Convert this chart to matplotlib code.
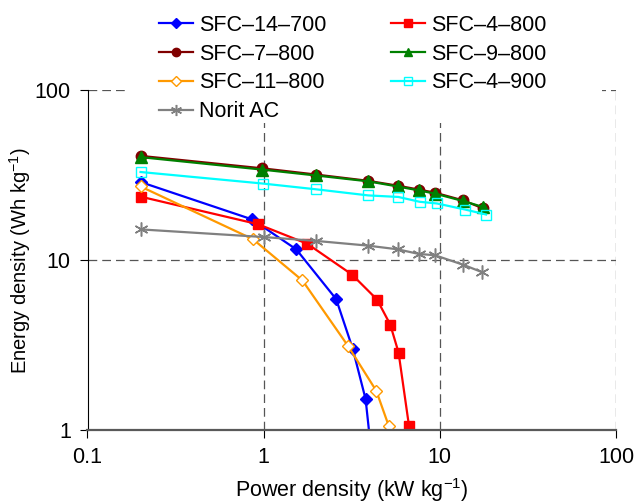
import matplotlib
matplotlib.use("Agg")
import matplotlib.pyplot as plt
from matplotlib.patches import Rectangle

plt.rcParams['font.family'] = ['Liberation Sans', 'DejaVu Sans']
plt.rcParams['mathtext.fontset'] = 'custom'
plt.rcParams['mathtext.rm'] = 'Liberation Sans'
plt.rcParams['mathtext.default'] = 'regular'

# Ragone data (power density kW/kg, energy density Wh/kg)
labels = ['SFC–14–700', 'SFC–4–800', 'SFC–7–800', 'SFC–9–800',
          'SFC–11–800', 'SFC–4–900', 'Norit AC']

p_14_700 = [0.2, 0.86, 1.53, 2.58, 3.20, 3.79, 4.05]
e_14_700 = [28.9, 17.4, 11.6, 5.9, 3.02, 1.52, 0.8]

p_4_800 = [0.2, 0.93, 1.77, 3.17, 4.40, 5.23, 5.83, 6.68, 7.0]
e_4_800 = [23.7, 16.3, 12.5, 8.24, 5.87, 4.18, 2.86, 1.06, 0.75]

p_7_800 = [0.2, 0.98, 1.97, 3.89, 5.76, 7.58, 9.39, 13.6, 17.6]
e_7_800 = [41.2, 34.8, 32.0, 29.4, 27.5, 26.1, 25.0, 22.5, 20.2]

p_9_800 = [0.2, 0.98, 1.97, 3.89, 5.76, 7.58, 9.39, 13.6, 17.6]
e_9_800 = [40.5, 34.2, 31.6, 29.2, 27.2, 25.8, 24.7, 22.3, 20.6]

p_11_800 = [0.2, 0.87, 1.66, 3.01, 4.36, 5.14, 5.7]
e_11_800 = [27.2, 13.3, 7.6, 3.13, 1.7, 1.05, 0.75]

p_4_900 = [0.2, 0.99, 1.97, 3.92, 5.81, 7.68, 9.64, 13.9, 18.3]
e_4_900 = [33.1, 28.3, 26.2, 24.1, 23.6, 22.1, 21.6, 19.9, 18.6]

p_norit = [0.2, 1.0, 1.98, 3.89, 5.76, 7.58, 9.39, 13.6, 17.4]
e_norit = [15.2, 13.7, 13.0, 12.2, 11.6, 10.9, 10.7, 9.4, 8.5]

xticks = [0.1, 1, 10, 100]
xticklabels = ['0.1', '1', '10', '100']
yticks = [1, 10, 100]
yticklabels = ['1', '10', '100']

FS = 15.5

fig = plt.figure(figsize=(6.35, 5.04), dpi=100)
W, H = 635, 504
ax = fig.add_axes([87.5 / W, (H - 430) / H, 528.5 / W, 339.5 / H])

lw = 1.6
h1, = ax.plot(p_14_700, e_14_700, color='#0000FF', lw=lw, marker='D', ms=6)
h2, = ax.plot(p_4_800, e_4_800, color='#FF0000', lw=lw, marker='s', ms=7)
h3, = ax.plot(p_7_800, e_7_800, color='#800000', lw=lw, marker='o', ms=7.5)
h4, = ax.plot(p_9_800, e_9_800, color='#008000', lw=lw, marker='^', ms=8)
h5, = ax.plot(p_11_800, e_11_800, color='#FF9900', lw=lw, marker='D', ms=6,
              mfc='white', mew=1)
h6, = ax.plot(p_4_900, e_4_900, color='#00FFFF', lw=lw, marker='s', ms=7,
              mfc='none', mew=1)
h7, = ax.plot(p_norit, e_norit, color='#808080', lw=lw, marker=(6, 2, 0),
              ms=10, mew=1.1)

ax.set_xscale('log')
ax.set_yscale('log')
ax.set_xlim(0.1, 100)
ax.set_ylim(1, 100)
ax.set_xticks(xticks)
ax.set_xticklabels(xticklabels)
ax.set_yticks(yticks)
ax.set_yticklabels(yticklabels)
ax.minorticks_off()
ax.tick_params(direction='out', length=6, width=0.8, labelsize=FS, pad=6)

ax.grid(True, which='major', color='#555555', lw=0.9, linestyle=(0, (7, 4)))

ax.spines['top'].set_visible(False)
ax.spines['right'].set_visible(False)
ax.spines['left'].set_color('black')
ax.spines['left'].set_linewidth(0.8)
ax.spines['bottom'].set_color('#595959')
ax.spines['bottom'].set_linewidth(1.6)

ax.set_xlabel('Power density (kW kg$^{-1}$)', fontsize=FS, labelpad=6)
ax.set_ylabel('Energy density (Wh kg$^{-1}$)', fontsize=14.5)
ax.yaxis.set_label_coords((33 - 87.5) / 528.5, 0.5)

# white block behind the legend, hiding the grid there
ax.add_patch(Rectangle((126 / W, 1 - 123 / H), (602 - 126) / W, 40 / H,
                       transform=fig.transFigure, facecolor='white',
                       edgecolor='none', clip_on=False, zorder=1.8))

handles = [h1, h3, h5, h7, h2, h4, h6]
names = [labels[0], labels[2], labels[4], labels[6],
         labels[1], labels[3], labels[5]]
ax.legend(handles, names, ncol=2, loc='upper left',
          bbox_to_anchor=(159 / W, 1 - 15 / H), bbox_transform=fig.transFigure,
          frameon=False, fontsize=FS, borderpad=0, borderaxespad=0,
          handlelength=1.58, handletextpad=0.28, columnspacing=3.0,
          labelspacing=0.36, markerscale=0.8)

fig.savefig('out.png', dpi=100)
